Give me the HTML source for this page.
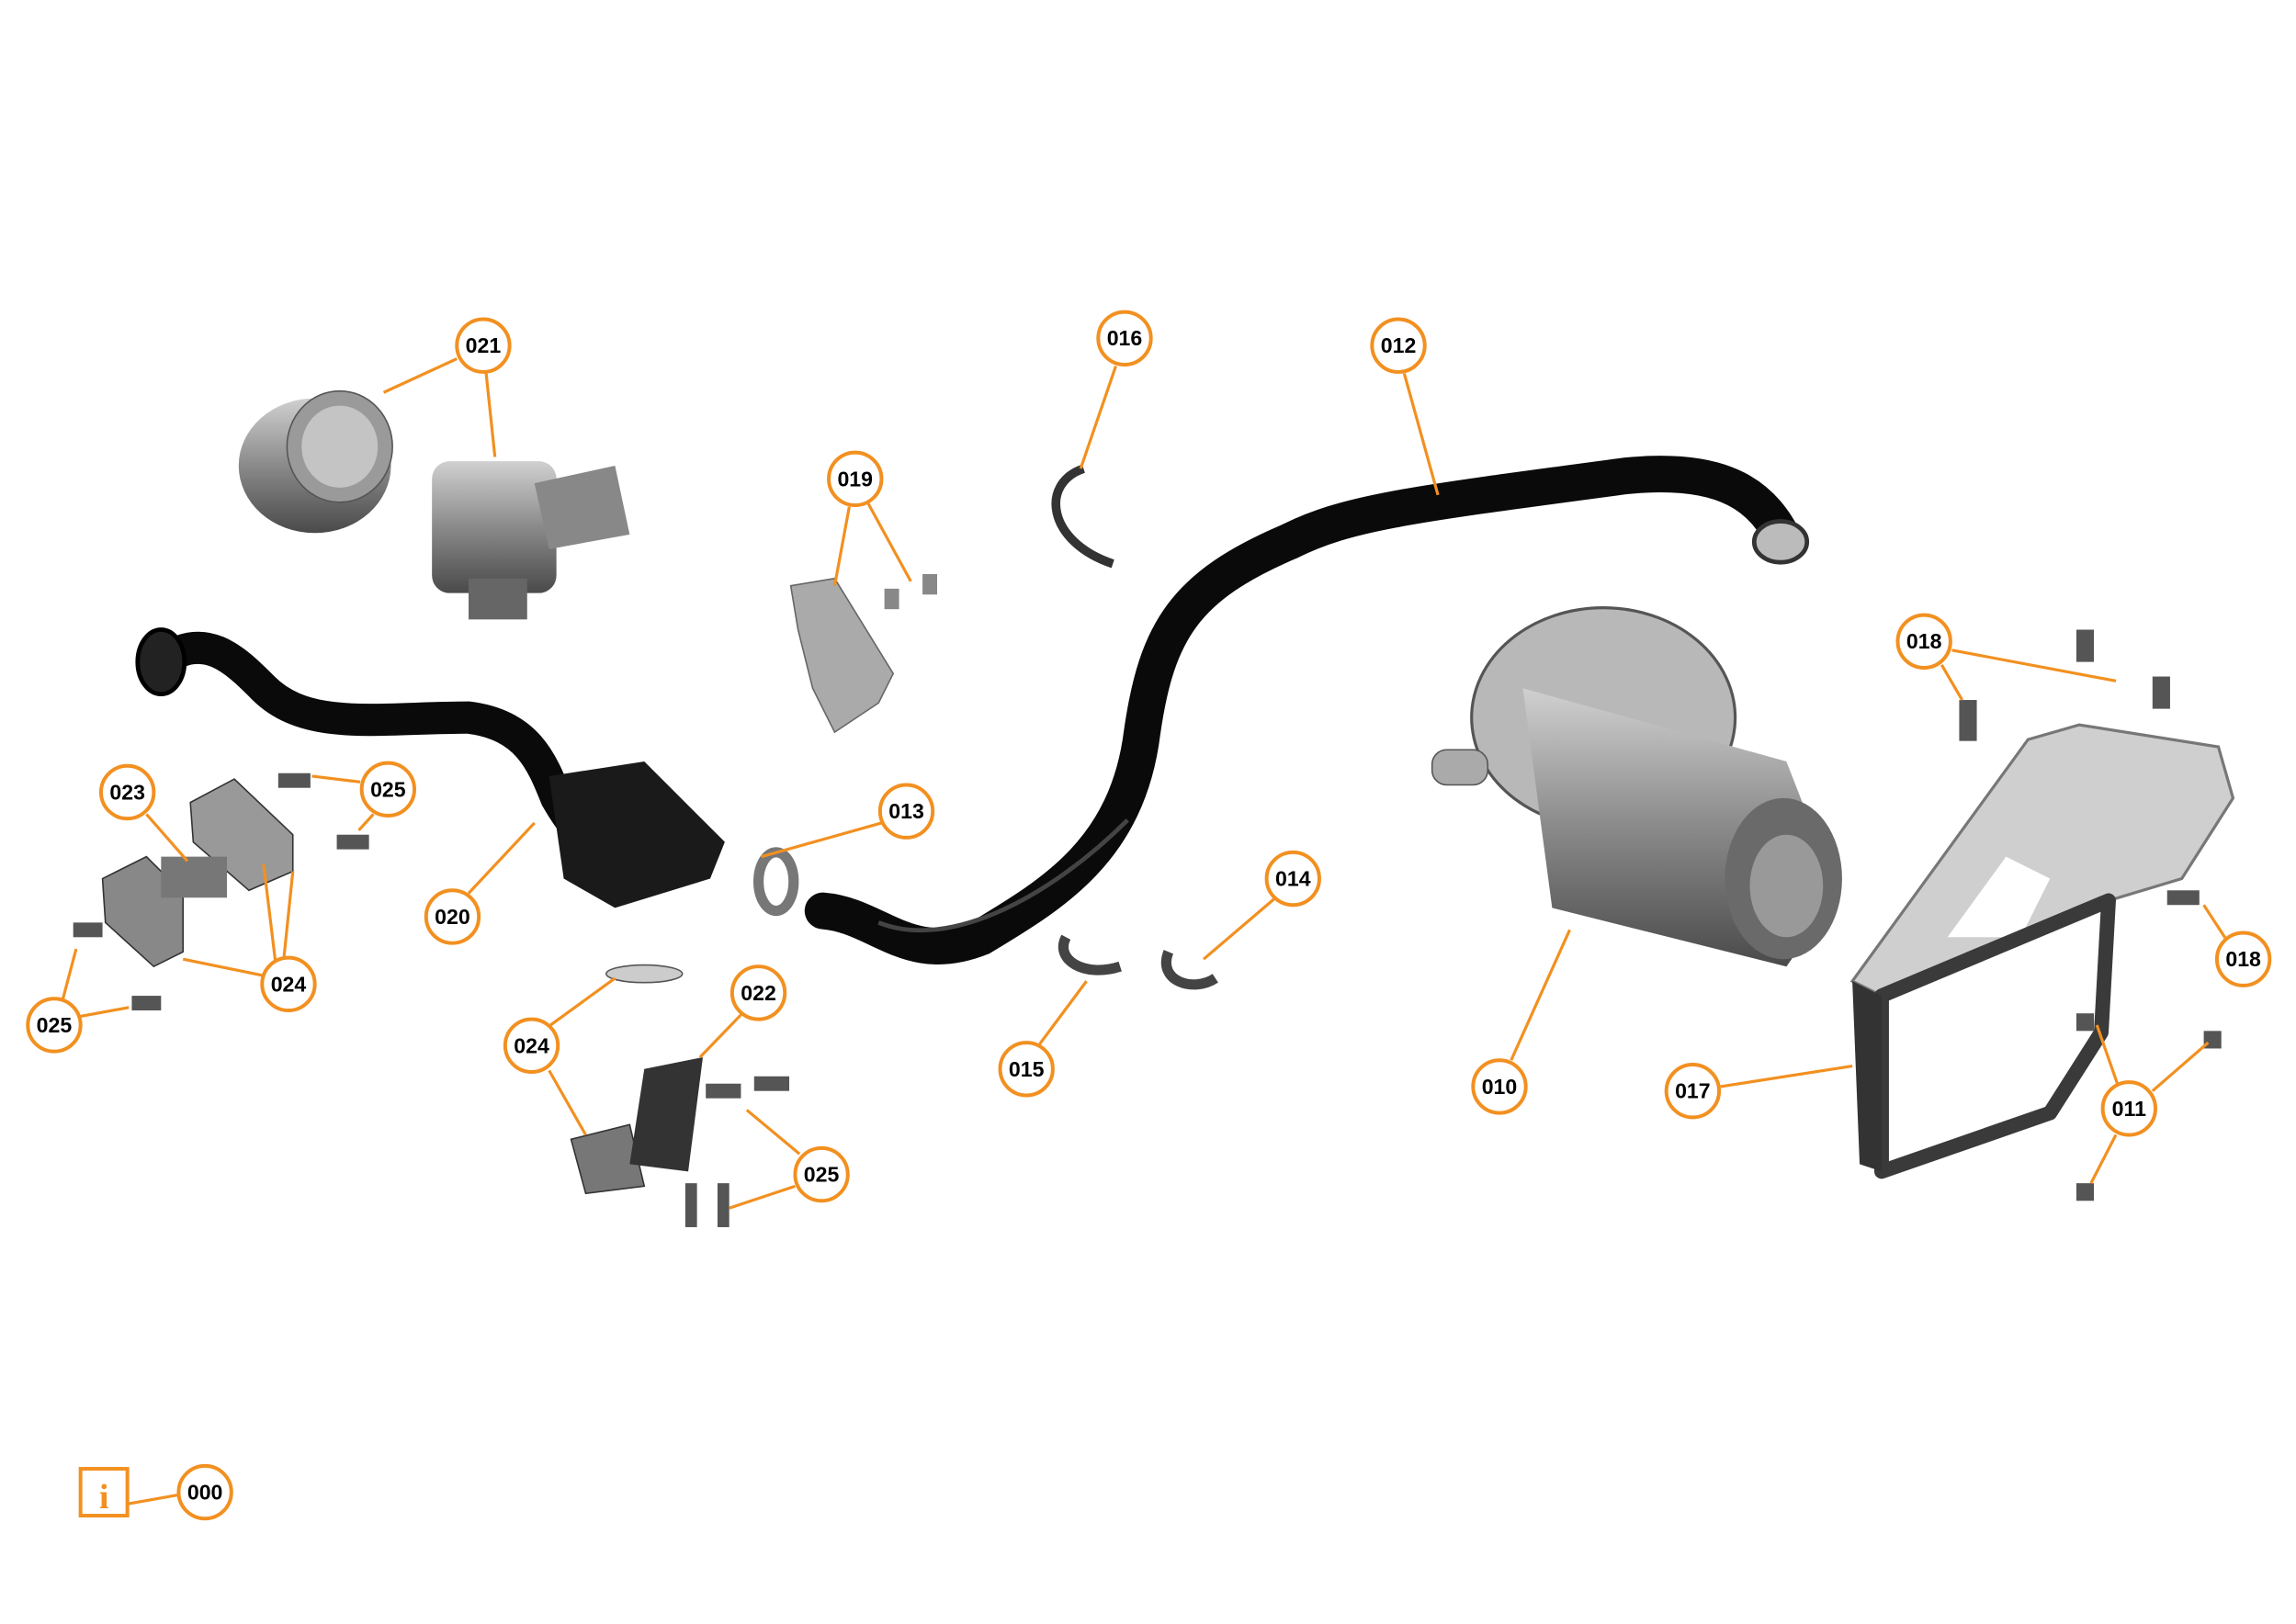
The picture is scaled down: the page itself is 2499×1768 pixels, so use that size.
<!DOCTYPE html>
<html><head><meta charset="utf-8"><style>
html,body{margin:0;padding:0;background:#fff;}
svg{display:block;}
text{font-family:"Liberation Sans",Arial,sans-serif;font-weight:bold;font-size:14.5px;text-anchor:middle;}
</style></head><body>
<svg width="2499" height="1768" viewBox="0 0 1568 1109" preserveAspectRatio="none" xmlns="http://www.w3.org/2000/svg">
<defs>
<linearGradient id="gm" x1="0" y1="0" x2="0" y2="1"><stop offset="0" stop-color="#d0d0d0"/><stop offset="0.5" stop-color="#8a8a8a"/><stop offset="1" stop-color="#4a4a4a"/></linearGradient>
</defs>
<!-- hose 012 -->
<path d="M562,622 C600,625 620,660 670,640 C720,610 770,580 780,500 C790,430 810,400 880,370 C920,350 960,345 1110,325 C1180,318 1205,340 1220,372" fill="none" stroke="#0a0a0a" stroke-width="25" stroke-linecap="round"/>
<path d="M600,630 C650,650 720,610 770,560" fill="none" stroke="#444" stroke-width="3"/>
<ellipse cx="1216" cy="370" rx="18" ry="14" fill="#bbb" stroke="#333" stroke-width="3"/>
<!-- hose 020 -->
<path d="M110,452 C140,430 160,450 180,470 C210,500 260,490 320,490 C360,495 370,520 380,545 C400,580 420,590 440,600" fill="none" stroke="#0a0a0a" stroke-width="22" stroke-linecap="round"/>
<ellipse cx="110" cy="452" rx="16" ry="22" fill="#222" stroke="#000" stroke-width="3"/>
<path d="M375,530 L440,520 L495,575 L485,600 L420,620 L385,600 Z" fill="#1a1a1a"/>
<!-- valves 021 -->
<ellipse cx="215" cy="318" rx="52" ry="46" fill="url(#gm)"/>
<ellipse cx="232" cy="305" rx="36" ry="38" fill="#9a9a9a" stroke="#555"/>
<ellipse cx="232" cy="305" rx="26" ry="28" fill="#c4c4c4"/>
<rect x="295" y="315" width="85" height="90" rx="12" fill="url(#gm)"/>
<path d="M365,330 L420,318 L430,365 L375,375 Z" fill="#888"/>
<rect x="320" y="395" width="40" height="28" fill="#666"/>
<!-- 019 sensor -->
<path d="M540,400 L570,395 L610,460 L600,480 L570,500 L555,470 L545,430 Z" fill="#aaa" stroke="#666"/>
<rect x="604" y="402" width="10" height="14" fill="#888"/><rect x="630" y="392" width="10" height="14" fill="#888"/>
<!-- clamps -->
<path d="M740,320 C710,330 715,370 760,385" fill="none" stroke="#333" stroke-width="6"/>
<ellipse cx="530" cy="602" rx="12" ry="20" fill="none" stroke="#777" stroke-width="7"/>
<path d="M728,640 C720,655 740,668 765,660" fill="none" stroke="#444" stroke-width="7"/>
<path d="M798,650 C790,670 815,678 830,668" fill="none" stroke="#444" stroke-width="7"/>
<!-- pump 010 -->
<ellipse cx="1095" cy="490" rx="90" ry="75" fill="#b8b8b8" stroke="#555" stroke-width="2"/>
<path d="M1040,470 L1220,520 L1255,610 L1220,660 L1060,620 Z" fill="url(#gm)"/>
<ellipse cx="1218" cy="600" rx="40" ry="55" fill="#6a6a6a"/>
<ellipse cx="1220" cy="605" rx="25" ry="35" fill="#999"/>
<rect x="978" y="512" width="38" height="24" rx="10" fill="#aaa" stroke="#555"/>
<!-- bracket 017 -->
<path d="M1265,670 L1385,505 L1420,495 L1515,510 L1525,545 L1490,600 L1440,615 L1285,680 Z" fill="#cfcfcf" stroke="#777" stroke-width="2"/>
<path d="M1330,640 L1370,585 L1400,600 L1380,640 Z" fill="#fff"/>
<path d="M1285,680 L1440,615 L1435,705 L1400,760 L1285,800 Z" fill="none" stroke="#3a3a3a" stroke-width="10" stroke-linejoin="round"/>
<path d="M1265,670 L1285,680 L1285,800 L1270,795 Z" fill="#333"/>
<!-- bolts / nuts -->
<g fill="#555">
<rect x="1418" y="430" width="12" height="22"/><rect x="1470" y="462" width="12" height="22"/><rect x="1338" y="478" width="12" height="28"/>
<rect x="1480" y="608" width="22" height="10"/>
<rect x="1418" y="692" width="12" height="12"/><rect x="1505" y="704" width="12" height="12"/><rect x="1418" y="808" width="12" height="12"/>
<rect x="190" y="528" width="22" height="10"/><rect x="230" y="570" width="22" height="10"/>
<rect x="50" y="630" width="20" height="10"/><rect x="90" y="680" width="20" height="10"/>
<rect x="482" y="740" width="24" height="10"/><rect x="515" y="735" width="24" height="10"/>
<rect x="468" y="808" width="8" height="30"/><rect x="490" y="808" width="8" height="30"/>
</g>
<!-- gaskets -->
<path d="M70,600 L100,585 L125,610 L125,650 L105,660 L72,630 Z" fill="#888" stroke="#333"/>
<path d="M130,548 L160,532 L200,570 L200,595 L170,608 L132,575 Z" fill="#999" stroke="#333"/>
<rect x="110" y="585" width="45" height="28" fill="#777"/>
<ellipse cx="440" cy="665" rx="26" ry="6" fill="#ccc" stroke="#555"/>
<path d="M390,778 L430,768 L440,810 L400,815 Z" fill="#777" stroke="#333"/>
<path d="M440,730 L480,722 L470,800 L430,795 Z" fill="#333"/>
<!-- leaders -->
<g stroke="#f29020" stroke-width="2" fill="none">
<path d="M312,245 L262,268 M332,255 L338,312"/>
<path d="M580,346 L570,400 M593,344 L622,397"/>
<path d="M762,250 L738,320"/>
<path d="M959,255 L982,338"/>
<path d="M602,562 L520,585"/>
<path d="M870,614 L822,655"/>
<path d="M710,713 L742,670"/>
<path d="M1333,444 L1445,465 M1326,454 L1340,478"/>
<path d="M1520,641 L1505,618"/>
<path d="M1470,745 L1508,712 M1446,740 L1432,700 M1445,775 L1428,808"/>
<path d="M1175,742 L1265,728"/>
<path d="M1032,724 L1072,635"/>
<path d="M320,610 L365,562"/>
<path d="M100,556 L128,588"/>
<path d="M246,534 L213,530 M255,556 L245,567"/>
<path d="M179,666 L125,655 M194,653 L200,595 M188,656 L180,590"/>
<path d="M43,682 L52,648 M55,694 L88,688"/>
<path d="M376,700 L420,668 M375,731 L400,775"/>
<path d="M506,693 L478,722"/>
<path d="M546,788 L510,758 M543,810 L498,825"/>
<path d="M87,1027 L121,1021"/>
<rect x="55" y="1003" width="32" height="32" stroke-width="2.5"/>
</g>
<text x="71" y="1030" fill="#f29020" style="font-family:'Liberation Serif',serif;font-size:24px">i</text>
<g stroke="#f29020" stroke-width="2.5" fill="#fff">
<circle cx="330" cy="236" r="18"/><circle cx="584" cy="327" r="18"/><circle cx="768" cy="231" r="18"/><circle cx="955" cy="236" r="18"/>
<circle cx="619" cy="554" r="18"/><circle cx="883" cy="600" r="18"/><circle cx="701" cy="730" r="18"/><circle cx="1314" cy="438" r="18"/>
<circle cx="1532" cy="655" r="18"/><circle cx="1454" cy="757" r="18"/><circle cx="1156" cy="745" r="18"/><circle cx="1024" cy="742" r="18"/>
<circle cx="309" cy="626" r="18"/><circle cx="87" cy="541" r="18"/><circle cx="265" cy="539" r="18"/><circle cx="197" cy="672" r="18"/>
<circle cx="37" cy="700" r="18"/><circle cx="363" cy="714" r="18"/><circle cx="518" cy="678" r="18"/><circle cx="561" cy="802" r="18"/>
<circle cx="140" cy="1019" r="18"/>
</g>
<g fill="#000">
<text x="330" y="241">021</text><text x="584" y="332">019</text><text x="768" y="236">016</text><text x="955" y="241">012</text>
<text x="619" y="559">013</text><text x="883" y="605">014</text><text x="701" y="735">015</text><text x="1314" y="443">018</text>
<text x="1532" y="660">018</text><text x="1454" y="762">011</text><text x="1156" y="750">017</text><text x="1024" y="747">010</text>
<text x="309" y="631">020</text><text x="87" y="546">023</text><text x="265" y="544">025</text><text x="197" y="677">024</text>
<text x="37" y="705">025</text><text x="363" y="719">024</text><text x="518" y="683">022</text><text x="561" y="807">025</text>
<text x="140" y="1024">000</text>
</g>
</svg>
</body></html>
